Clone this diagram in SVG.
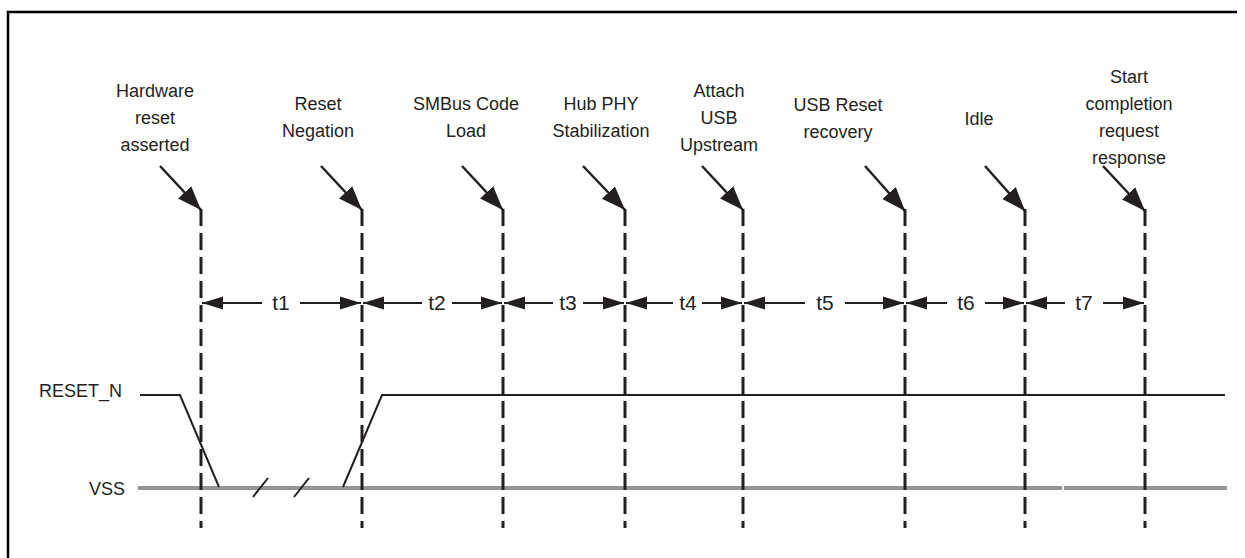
<svg xmlns="http://www.w3.org/2000/svg" width="1245" height="558" viewBox="0 0 1245 558">
<style>
text{font-family:"Liberation Sans",Arial,sans-serif;fill:#231f20}
.lbl{font-size:18px;text-anchor:middle}
.t{font-size:21px;text-anchor:middle}
.sig{font-size:18px;text-anchor:end}
.dash{stroke:#231f20;stroke-width:3;stroke-dasharray:17 7;fill:none}
.ptr{stroke:#231f20;stroke-width:2.5;fill:none;marker-end:url(#ah)}
.dim{stroke:#231f20;stroke-width:2;fill:none;marker-end:url(#dh)}
</style>
<defs>
<marker id="ah" markerUnits="userSpaceOnUse" markerWidth="26" markerHeight="20" refX="24" refY="9" orient="auto" viewBox="0 0 26 18">
<path d="M0,0 L24,9 L0,18 Z" fill="#231f20"/>
</marker>
<marker id="dh" markerUnits="userSpaceOnUse" markerWidth="22" markerHeight="14" refX="21" refY="6.5" orient="auto" viewBox="0 0 22 13">
<path d="M0,0 L21,6.5 L0,13 Z" fill="#231f20"/>
</marker>
</defs>
<rect width="1245" height="558" fill="#fff"/>
<path d="M8,558 V12 H1237" stroke="#000" stroke-width="2.5" fill="none"/>

<g id="node-hw">
<text class="lbl" x="155" y="97">Hardware</text>
<text class="lbl" x="155" y="124">reset</text>
<text class="lbl" x="155" y="151">asserted</text>
</g>
<g id="node-reset-neg">
<text class="lbl" x="318" y="110">Reset</text>
<text class="lbl" x="318" y="137">Negation</text>
</g>
<g id="node-smbus">
<text class="lbl" x="466" y="110">SMBus Code</text>
<text class="lbl" x="466" y="137">Load</text>
</g>
<g id="node-hubphy">
<text class="lbl" x="601" y="110">Hub PHY</text>
<text class="lbl" x="601" y="137">Stabilization</text>
</g>
<g id="node-attach">
<text class="lbl" x="719" y="97">Attach</text>
<text class="lbl" x="719" y="124">USB</text>
<text class="lbl" x="719" y="151">Upstream</text>
</g>
<g id="node-usbreset">
<text class="lbl" x="838" y="111">USB Reset</text>
<text class="lbl" x="838" y="138">recovery</text>
</g>
<g id="node-idle">
<text class="lbl" x="979" y="125">Idle</text>
</g>
<g id="node-start">
<text class="lbl" x="1129" y="83">Start</text>
<text class="lbl" x="1129" y="110">completion</text>
<text class="lbl" x="1129" y="137">request</text>
<text class="lbl" x="1129" y="164">response</text>
</g>

<g id="signals">
<text class="sig" x="122" y="397">RESET_N</text>
<text class="sig" x="125" y="495">VSS</text>
<path d="M138,488 H1062 M1064,488 H1227" stroke="#939598" stroke-width="4" fill="none"/>
<path d="M140,395 H180 L219,487 M343,487 L382,395 H1225" stroke="#231f20" stroke-width="2" fill="none"/>
<path d="M253,497 L268,478 M294,497 L309,478" stroke="#231f20" stroke-width="2" fill="none"/>
</g>

<g id="connectors">
<path class="dash" d="M201,209 V528 M362,209 V528 M503,209 V528 M625,209 V528 M743,209 V528 M905,209 V528 M1025,209 V528 M1145,209 V528"/>
<path class="ptr" d="M160,166 L201,210"/>
<path class="ptr" d="M321,166 L362,210"/>
<path class="ptr" d="M462,166 L503,210"/>
<path class="ptr" d="M583,166 L625,210"/>
<path class="ptr" d="M702,166 L743,210"/>
<path class="ptr" d="M865,166 L905,211"/>
<path class="ptr" d="M985,166 L1025,211"/>
<path class="ptr" d="M1103,166 L1145,211"/>

<path class="dim" d="M262,303 H202"/>
<path class="dim" d="M300,303 H361"/>
<path class="dim" d="M422,303 H363"/>
<path class="dim" d="M452,303 H502"/>
<path class="dim" d="M553,303 H504"/>
<path class="dim" d="M583,303 H624"/>
<path class="dim" d="M673,303 H626"/>
<path class="dim" d="M702,303 H742"/>
<path class="dim" d="M805,303 H744"/>
<path class="dim" d="M845,303 H904"/>
<path class="dim" d="M947,303 H906"/>
<path class="dim" d="M985,303 H1024"/>
<path class="dim" d="M1065,303 H1026"/>
<path class="dim" d="M1103,303 H1144"/>

<text class="t" x="281" y="310">t1</text>
<text class="t" x="437" y="310">t2</text>
<text class="t" x="568" y="310">t3</text>
<text class="t" x="688" y="310">t4</text>
<text class="t" x="825" y="310">t5</text>
<text class="t" x="966" y="310">t6</text>
<text class="t" x="1084" y="310">t7</text>
</g>
</svg>
